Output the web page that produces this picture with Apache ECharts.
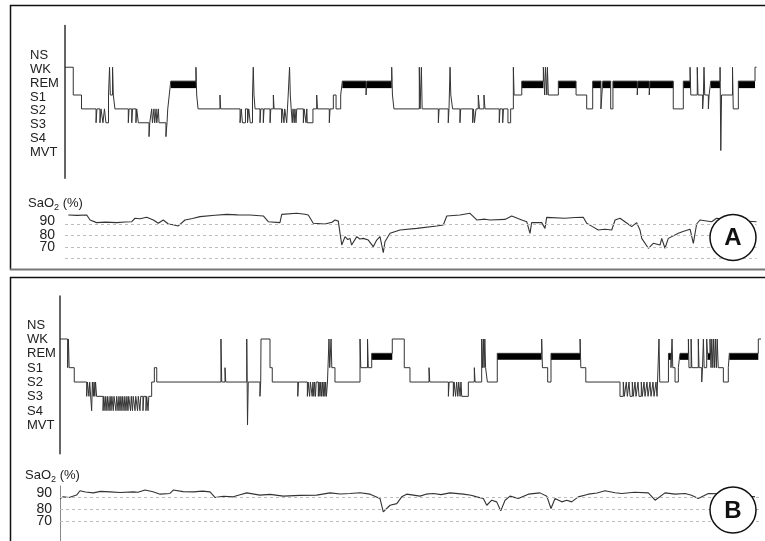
<!DOCTYPE html>
<html><head><meta charset="utf-8">
<script src="https://cdn.jsdelivr.net/npm/echarts@6/dist/echarts.min.js"></script>
<style>html,body{margin:0;padding:0;background:#fff}#c{width:765px;height:541px}</style>
</head><body><div id="c"></div>
<script>
// Sleep stage codes: 0 NS, 1 WK, 2 REM, 3 S1, 4 S2, 5 S3, 6 S4, 7 MVT
const stageNames = ['NS','WK','REM','S1','S2','S3','S4','MVT'];
const saoTicks = [70, 80, 90];
const panelLabels = ['A', 'B'];

// Panel A hypnogram: [minutes from start, stage code] at each stage change
const hypA = [
[0,1],[5.5,3],[11,4],
[20.7,5],[21.3,4],[23.3,5],[24,4],[25.3,5],[26.3,4],[27.3,5],[29,3],
[29.7,1],[30.2,3],[31.7,1],[32.2,3],[33.3,4],
[42.2,5],[42.7,4],[44.5,5],[45,4],[47.3,5],[47.8,4],[48.9,5],
[56,6],[56.5,5],[57.8,4],[58.3,5],[59.3,4],[59.8,5],[60.7,4],[61.2,5],[62.2,4],[62.7,5],
[67.3,6],[68,5],[68.5,4],[69.5,3],[70.5,2],
[87.3,1],[87.8,3],[88.7,4],
[103.3,3],[103.8,4],
[116.7,5],[117.5,4],[118.3,5],[120.3,4],[121.7,5],[122.5,4],[123.5,5],[125,3],[125.5,1],[126,3],[126.7,4],
[130,5],[130.5,4],[132.2,5],[132.7,4],[136.7,5],[137.2,4],[138.9,3],[139.4,4],[144.4,5],[144.9,4],[146,5],[146.5,4],
[147.8,5],[148.3,4],[148.8,3],[149.7,1],[150.2,3],[150.8,4],[151.5,5],[152,4],[152.8,5],[153.3,4],[154,5],[154.5,4],
[158.9,5],[159.4,4],[160.7,5],[161.2,4],[161.5,5],[165.3,4],[167.8,3],[168.3,4],[176.2,5],[176.7,4],
[178.9,3],[180.7,4],[183.8,3],[184.9,2],
[200.7,3],[201.2,2],
[217.8,1],[218.3,3],[219.3,4],
[236.2,1],[236.7,4],[237.6,1],[238.1,4],
[248.9,5],[249.4,4],[255.5,5],[256,4],[256.7,1],[257.2,3],[258.4,4],[263.3,5],[263.8,4],
[271.8,5],[272.3,4],[273,5],[274,4],[275.5,3],[276.3,4],[279.3,3],[280,4],
[289.5,5],[290,4],[291.8,5],[292.3,4],[295.3,5],[297.1,4],[298.9,1],[299.4,3],[304.5,2],
[318.9,1],[319.8,3],[320.3,1],[321.2,3],[321.6,1],[322.2,3],
[328.9,2],[340.7,3],[347.8,4],[351.8,2],[357.3,4],[358.5,2],[363.8,4],[365.3,2],
[381.5,3],[382,2],[389.5,3],[390,2],
[405.5,4],[412.2,2],[416.7,1],[417.2,3],[421.5,1],[422,3],[425.1,4],[425.6,3],[426,1],[426.5,3],
[428.9,4],[429.4,3],[430.5,2],
[436.7,1],[437.2,7],[437.7,3],[445,1],[445.5,4],[448.9,2],[460,1],[461,1]
];

// Panel B hypnogram
const hypB = [
[0,1],[5.1,3],[5.6,1],[6.1,3],[9.5,4],
[17.8,5],[18.3,4],[19.3,5],[19.8,4],[21.1,6],[21.6,4],[22.2,5],[22.7,4],[23.2,5],[23.7,4],[24.4,5],
[28.7,6],[29.2,5],[30,6],[30.5,5],[31.3,6],[31.8,5],[32.7,6],[33.4,5],[34,6],[34.6,5],[35.5,6],[36,5],
[37.3,6],[37.8,5],[38.7,6],[39.3,5],[40,6],[40.6,5],[41.3,6],[41.8,5],[42.7,6],[43.2,5],[44,6],[44.6,5],
[45.3,6],[45.8,5],[47,6],[47.5,5],[48.3,6],[48.8,5],[50,6],[50.5,5],[51.7,6],[52.2,5],[53.3,6],[53.8,5],
[55.3,6],[55.8,5],[57.3,6],[57.8,5],[58.7,6],[59.2,5],
[61.1,4],[62.9,3],[64.5,4],
[107.3,1],[107.8,4],[110,3],[110.5,4],
[124.5,1],[125,7],[125.5,4],
[133.3,5],[133.8,4],[134,1],[140,3],[141.5,4],
[158.5,5],[159,4],[164.9,5],[165.4,4],[166.4,5],[166.9,4],[168.1,5],[168.6,4],[169.2,5],[169.7,4],[170.3,5],[170.8,4],
[172.2,5],[172.7,4],[173.3,5],[173.8,4],[174.4,5],[174.9,4],[175.5,5],[176,4],[176.6,5],[177.1,4],[177.6,5],[178.3,4],
[179.3,1],[179.8,3],[180.7,1],[181.2,3],[183.3,4],
[200,1],[200.5,3],[205,1],[205.5,3],[207.8,2],
[221.5,1],[229.5,3],[233.3,4],[246,3],[246.5,4],[258.9,5],[259.4,4],
[262.2,5],[262.7,4],[263.7,5],[264.4,4],[265.2,5],[265.8,4],[266.7,5],[267.3,4],[267.8,5],[272.2,4],
[276.2,3],[276.7,4],[281.1,1],[281.7,3],[282.2,1],[282.7,3],[283.2,1],[283.7,3],[284.9,4],[291.5,2],
[321.1,1],[321.6,3],[325.1,4],[327.3,2],[346.7,1],[347.2,3],[350.5,4],
[373.3,5],[375.5,4],[376.2,5],[377.5,4],[378.2,5],[379.3,4],[380,5],[381.5,4],[382.2,5],[383.3,4],[384,5],
[385.3,4],[386,5],[387.5,4],[388.2,5],[389.3,4],[390,5],[391.3,4],[392,5],[393.3,4],[394,5],[395.3,4],[396,5],
[397.3,4],[398,5],
[399.3,1],[399.8,4],[405.6,2],[407.3,3],[408,1],[408.5,3],[410,4],[412.2,3],[413.3,2],
[418.9,1],[419.3,3],[420.7,1],[421.2,3],[425.5,1],[426,3],[427.8,4],[428.3,3],[428.9,1],[429.4,3],[431.1,1],[431.6,2],
[433.3,1],[434,3],[434.5,1],[435.2,3],[435.7,1],[436.4,3],[436.9,1],[437.6,3],[438.1,1],[438.8,3],
[442.2,4],[445.5,3],[446.2,2],[465.5,1],[467.3,1]
];

// Panel A SaO2 (%): [minutes, value]
const saoA = [
[2.2,97.8],[8,97.5],[14.5,97.8],[16.7,93.5],[21.1,91.2],[27,91.6],[34.5,91.2],[40,91.8],[44.5,92],[46.7,95],[50,94.6],
[54.5,95.8],[58.9,93.5],[62.2,90.6],[65.5,93.5],[68.9,90],[72,89.4],[75.5,88.3],[80,93.5],[85,94.8],[90,96.4],
[100,97.6],[107.8,98.4],[115,97.9],[123.3,97.8],[132.2,97],[135.5,92],[143.3,91.2],[144.5,98.4],[154.5,99.3],
[160,98.5],[162.2,97.8],[165.5,90.6],[173.3,90],[178,91.5],[180,93.5],[182.2,92.5],[184.5,71.7],[186.7,79],
[188.5,76.5],[190,77.5],[191.1,71.7],[194.5,79],[196.5,77],[198.9,77.5],[202.2,76],[205.5,70.3],[207.8,76],
[210,79],[212.2,65],[213.3,74.6],[216.7,81.9],[223.3,84.8],[234.5,86.2],[247.8,88.3],[252.2,89.1],[254.5,97],
[263.3,97.8],[270,99.3],[274.5,93.5],[280,94.2],[283.3,93.5],[293.3,94],[297.8,97],[304.5,93.5],[307.8,92],
[310,81.9],[311.1,91.2],[317.8,91.2],[320,86.2],[321.1,95.8],[333.3,95],[340,95.6],[345.5,95.8],[347.8,90.6],
[352,87.5],[355.5,84.8],[360,85.5],[364.5,84.8],[366.7,93.5],[370,95],[373.3,92],[377.8,87.7],[381.1,91.2],
[383.3,84.8],[384.5,77.5],[388.9,68.9],[392.2,73.2],[396.7,71.7],[397.8,77.5],[400,68.9],[402.2,77.5],
[408.9,81.9],[412,83.5],[416.7,85.5],[418.9,73.2],[421.1,90],[423.3,93.5],[431.1,92],[434.4,95],[446.7,93],[461,92]
];

// Panel B SaO2 (%)
const saoB = [
[0,89.3],[2.2,90.7],[6,90.2],[11.1,92.2],[13.3,95.9],[17,94.8],[22.2,94.1],[27,95.4],[33.3,95],[40,94.4],[48.9,95],
[52,94.6],[56.7,96.5],[62,95],[66.7,93],[73.3,93.6],[75.5,96.5],[82,95.2],[88.9,95],[95,95.6],[100,95],[103.3,90.2],
[109,91.2],[115.5,90.7],[120,92.5],[124.5,94.1],[133.3,92.2],[140,92.8],[148.9,91.3],[160,92],[171.1,92.2],
[180,94.1],[187,93.2],[193.3,93.6],[200,94.2],[206.7,93],[213.3,89.3],[215.5,77.8],[220,83.5],[224.5,84.9],
[227.8,90.7],[231.1,93],[240,91.3],[244,93],[248.9,93.6],[254,92.6],[260,94.1],[268.9,93],[274,92],[277.8,90.7],
[282.2,89.3],[284.5,83.5],[287.8,87.8],[291.1,86.4],[293.8,78.7],[296.7,87.8],[300,91.3],[305.5,89.3],
[312.2,93],[320,94.1],[324.5,91.3],[327.3,80.7],[330,89.3],[334.5,86.4],[337.8,87.8],[341.1,86.4],
[345.5,90.7],[352.2,93],[358,94],[363.3,95.9],[370,94.2],[374.5,93.6],[383,94.6],[392.2,94.1],[396.7,87.8],
[403.3,94.1],[410,93],[416.7,93.6],[421,92],[425.5,89.3],[432.2,93.6],[440,93.4],[446.7,93],[455,92],[463.3,90.7]
];

function remIntervals(h) {
  const out = [];
  for (let i = 0; i < h.length - 1; i++) if (h[i][1] === 2) out.push([h[i][0], h[i + 1][0], 2]);
  return out;
}

const FONT = 'Liberation Sans, DejaVu Sans, sans-serif';

function hypY(gi, margin, pad) {
  return {
    gridIndex: gi, type: 'value', min: -2, max: 9, interval: 1, inverse: true,
    axisLine: { show: true, lineStyle: { color: '#333', width: 1.5 } },
    axisTick: { show: false }, splitLine: { show: false },
    axisLabel: {
      margin: margin, align: 'left',
      formatter: v => (v >= 0 && v <= 7) ? '{a|' + stageNames[v] + '}' : '',
      rich: { a: { fontSize: 13, color: '#222', fontFamily: FONT, padding: [pad, 0, 0, 0] } }
    }
  };
}
function saoY(gi, showLine, margin, lift) {
  return {
    gridIndex: gi, type: 'value', min: 50, max: 100, interval: 10,
    offset: showLine ? 2 : 0,
    axisLine: { show: showLine, lineStyle: { color: '#888', width: 1 } },
    axisTick: { show: false }, splitLine: { show: false },
    axisLabel: {
      margin: margin,
      formatter: v => saoTicks.indexOf(v) >= 0 ? (v === 90 ? '{u|' + v + '}' : '{n|' + v + '}') : '',
      rich: {
        u: { fontSize: 14, color: '#222', fontFamily: FONT, padding: [0, 0, lift, 0] },
        n: { fontSize: 14, color: '#222', fontFamily: FONT }
      }
    }
  };
}
function remSeries(xi, yi, data, h) {
  return {
    type: 'custom', xAxisIndex: xi, yAxisIndex: yi, data: data, encode: { x: [0, 1], y: 2 },
    renderItem: function (params, api) {
      const s = api.coord([api.value(0), 2]);
      const e = api.coord([api.value(1), 2]);
      return { type: 'rect', shape: { x: s[0], y: s[1], width: e[0] - s[0], height: h }, style: { fill: '#000' } };
    }
  };
}
function gridLines(vals) {
  return {
    silent: true, symbol: ['none', 'none'], label: { show: false },
    lineStyle: { type: [3, 3], color: '#bdbdbd', width: 1 },
    data: vals.map(v => ({ yAxis: v }))
  };
}

const chart = echarts.init(document.getElementById('c'));
chart.setOption({
  animation: false,
  backgroundColor: '#fff',
  grid: [
    { left: 65, top: 25.6, width: 691.5, height: 152.7, outerBoundsMode: 'none' },
    { left: 65, top: 212.5, width: 691.5, height: 57.5, outerBoundsMode: 'none' },
    { left: 60, top: 296, width: 701, height: 157.7, outerBoundsMode: 'none' },
    { left: 60, top: 486, width: 701, height: 58.3, outerBoundsMode: 'none' }
  ],
  xAxis: [
    { gridIndex: 0, type: 'value', min: 0, max: 461, show: false },
    { gridIndex: 1, type: 'value', min: 0, max: 461, show: false },
    { gridIndex: 2, type: 'value', min: 0, max: 467.3, show: false },
    { gridIndex: 3, type: 'value', min: 0, max: 467.3, show: false }
  ],
  yAxis: [hypY(0, 35, 4), saoY(1, false, 10, 6), hypY(2, 33, 1), saoY(3, true, 6, 9)],
  series: [
    { type: 'line', xAxisIndex: 0, yAxisIndex: 0, data: hypA, step: 'end', showSymbol: false,
      lineStyle: { color: '#333', width: 1 } },
    remSeries(0, 0, remIntervals(hypA), 7),
    { type: 'line', xAxisIndex: 1, yAxisIndex: 1, data: saoA, showSymbol: false,
      lineStyle: { color: '#333', width: 1.1 }, markLine: gridLines([60, 70, 80, 90]) },
    { type: 'line', xAxisIndex: 2, yAxisIndex: 2, data: hypB, step: 'end', showSymbol: false,
      lineStyle: { color: '#333', width: 1 } },
    remSeries(2, 2, remIntervals(hypB), 6.5),
    { type: 'line', xAxisIndex: 3, yAxisIndex: 3, data: saoB, showSymbol: false,
      lineStyle: { color: '#333', width: 1.1 }, markLine: gridLines([70, 80, 90]) }
  ],
  graphic: [
    { type: 'line', shape: { x1: 10, y1: 5.5, x2: 765, y2: 5.5 }, style: { stroke: '#111', lineWidth: 1.5 } },
    { type: 'line', shape: { x1: 10.5, y1: 5, x2: 10.5, y2: 270 }, style: { stroke: '#111', lineWidth: 1.5 } },
    { type: 'line', shape: { x1: 10, y1: 269.5, x2: 765, y2: 269.5 }, style: { stroke: '#777', lineWidth: 2 } },
    { type: 'line', shape: { x1: 10, y1: 277.5, x2: 765, y2: 277.5 }, style: { stroke: '#111', lineWidth: 1.5 } },
    { type: 'line', shape: { x1: 10.5, y1: 277, x2: 10.5, y2: 541 }, style: { stroke: '#111', lineWidth: 1.5 } },
    { type: 'text', x: 28, y: 203, style: { text: 'SaO{s|2} (%)', fontSize: 13, fontFamily: FONT, fill: '#222',
      verticalAlign: 'middle', rich: { s: { fontSize: 9, fontFamily: FONT, verticalAlign: 'bottom', lineHeight: 18 } } } },
    { type: 'text', x: 25, y: 475, style: { text: 'SaO{s|2} (%)', fontSize: 13, fontFamily: FONT, fill: '#222',
      verticalAlign: 'middle', rich: { s: { fontSize: 9, fontFamily: FONT, verticalAlign: 'bottom', lineHeight: 18 } } } },
    { type: 'circle', shape: { cx: 733, cy: 237.5, r: 23 }, style: { fill: '#fff', stroke: '#111', lineWidth: 1.5 }, z: 100 },
    { type: 'text', x: 733, y: 238.5, style: { text: panelLabels[0], fontSize: 24, fontWeight: 'bold', fontFamily: FONT,
      fill: '#111', align: 'center', verticalAlign: 'middle' }, z: 101 },
    { type: 'circle', shape: { cx: 733, cy: 510, r: 23 }, style: { fill: '#fff', stroke: '#111', lineWidth: 1.5 }, z: 100 },
    { type: 'text', x: 733, y: 511, style: { text: panelLabels[1], fontSize: 24, fontWeight: 'bold', fontFamily: FONT,
      fill: '#111', align: 'center', verticalAlign: 'middle' }, z: 101 }
  ]
});
</script>
</body></html>
